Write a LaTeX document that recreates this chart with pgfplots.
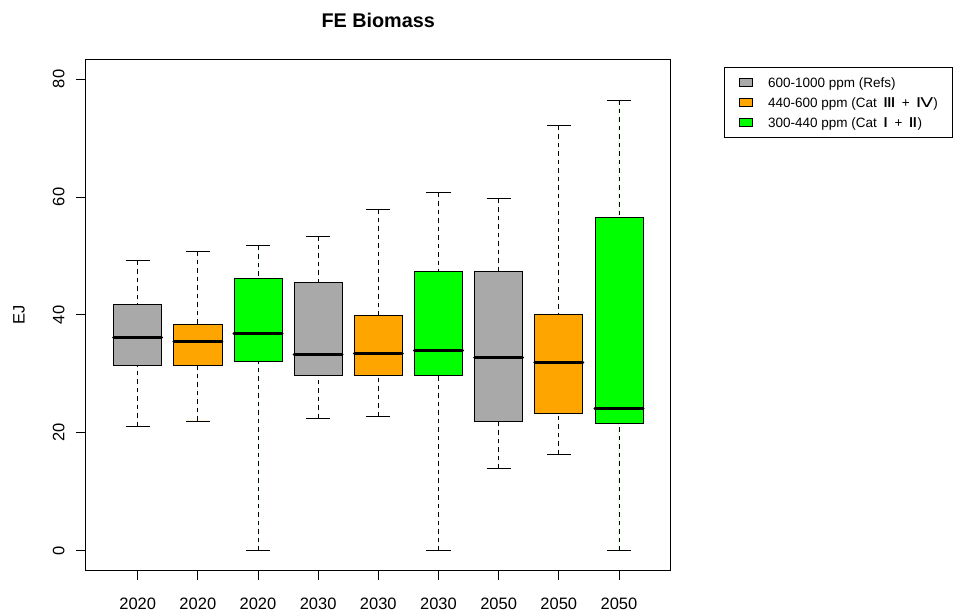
\documentclass[border=0pt]{standalone}
\usepackage{pgfplots}
\pgfplotsset{compat=1.18}
\usepgfplotslibrary{statistics}
\usepackage{fontspec}
\setmainfont{Liberation Sans}
\newfontfamily\dejavu{DejaVu Sans}
\definecolor{rgray}{HTML}{A9A9A9}
\definecolor{rorange}{HTML}{FFA500}
\definecolor{rgreen}{HTML}{00FF00}
\newcommand{\rn}[1]{\scalebox{1.4}[1]{\dejavu #1}}
\begin{document}
\fontsize{16.5bp}{19.8bp}\selectfont
\begin{tikzpicture}
\path[use as bounding box] (-85.7bp,-40.7bp) rectangle (868.3bp,570.3bp);
\begin{axis}[
  at={(0,0)}, anchor=south west,
  scale only axis, width=585bp, height=511.3bp,
  xmin=0.136, xmax=9.86, ymin=-3.32, ymax=83.39,
  axis line style={line width=0.8bp},
  tick style={line width=0.8bp, black},
  tick align=outside, tick pos=left, major tick length=10bp,
  xtick={1,2,3,4,5,6,7,8,9},
  xticklabels={2020,2020,2020,2030,2030,2030,2050,2050,2050},
  ytick={0,20,40,60,80},
  every tick label/.append style={font=\fontsize{16.5bp}{19.8bp}\selectfont},
  yticklabel style={rotate=90, anchor=south, inner sep=0pt},
  xticklabel style={anchor=north, inner sep=0pt},
  yticklabel shift=11bp,
  xticklabel shift=17bp,
  /pgf/number format/assume math mode=true,
  title={FE Biomass},
  title style={font=\fontsize{19.8bp}{24bp}\selectfont\bfseries, at={(axis description cs:0.5,1)}, anchor=base, yshift=26bp},
  ylabel={EJ},
  ylabel style={font=\fontsize{16.5bp}{19.8bp}\selectfont, at={(axis description cs:-0.114,0.5)}, anchor=center},
  legend cell align=left,
  legend image code/.code={\draw[#1, line width=0.8bp] (0bp,-4bp) rectangle (13bp,4bp);},
  legend style={at={(axis description cs:1.091,0.984)}, anchor=north west, draw=black, line width=0.8bp,
    font=\fontsize{13.5bp}{16bp}\selectfont, inner xsep=15bp, inner ysep=10bp, row sep=10.3bp, column sep=15bp,
    nodes={inner sep=0pt, text height=9.7bp, text depth=0pt}},
  boxplot/draw direction=y,
  boxplot/every median/.style={line width=3bp, line cap=round},
  boxplot/draw/lower whisker/.code={
    \draw[dash pattern=on 4.5bp off 4bp]
      (boxplot box cs:\pgfplotsboxplotvalue{lower whisker},0.5) --
      (boxplot box cs:\pgfplotsboxplotvalue{lower quartile},0.5);
    \draw (boxplot whisker cs:\pgfplotsboxplotvalue{lower whisker},0) --
      (boxplot whisker cs:\pgfplotsboxplotvalue{lower whisker},1);
  },
  boxplot/draw/upper whisker/.code={
    \draw[dash pattern=on 4.5bp off 4bp]
      (boxplot box cs:\pgfplotsboxplotvalue{upper whisker},0.5) --
      (boxplot box cs:\pgfplotsboxplotvalue{upper quartile},0.5);
    \draw (boxplot whisker cs:\pgfplotsboxplotvalue{upper whisker},0) --
      (boxplot whisker cs:\pgfplotsboxplotvalue{upper whisker},1);
  },
]
\addlegendimage{fill=rgray, draw=black}
\addlegendentry{600-1000 ppm (Refs)}
\addlegendimage{fill=rorange, draw=black}
\addlegendentry{440-600 ppm (Cat\hspace{6bp}\rn{Ⅲ}\hspace{6bp}+\hspace{6bp}\rn{Ⅳ})}
\addlegendimage{fill=rgreen, draw=black}
\addlegendentry{300-440 ppm (Cat\hspace{6bp}\rn{Ⅰ}\hspace{6bp}+\hspace{6bp}\rn{Ⅱ})}

\addplot[draw=black, fill=rgray, line width=0.8bp, boxplot prepared={draw position=1, lower whisker=21.1, lower quartile=31.5, median=36.1, upper quartile=41.8, upper whisker=49.2, box extend=0.8, whisker extend=0.4}] coordinates {};
\addplot[draw=black, fill=rorange, line width=0.8bp, boxplot prepared={draw position=2, lower whisker=22.0, lower quartile=31.4, median=35.4, upper quartile=38.3, upper whisker=50.8, box extend=0.8, whisker extend=0.4}] coordinates {};
\addplot[draw=black, fill=rgreen, line width=0.8bp, boxplot prepared={draw position=3, lower whisker=0, lower quartile=32.1, median=36.8, upper quartile=46.2, upper whisker=51.7, box extend=0.8, whisker extend=0.4}] coordinates {};
\addplot[draw=black, fill=rgray, line width=0.8bp, boxplot prepared={draw position=4, lower whisker=22.5, lower quartile=29.7, median=33.3, upper quartile=45.5, upper whisker=53.3, box extend=0.8, whisker extend=0.4}] coordinates {};
\addplot[draw=black, fill=rorange, line width=0.8bp, boxplot prepared={draw position=5, lower whisker=22.8, lower quartile=29.7, median=33.5, upper quartile=39.9, upper whisker=57.9, box extend=0.8, whisker extend=0.4}] coordinates {};
\addplot[draw=black, fill=rgreen, line width=0.8bp, boxplot prepared={draw position=6, lower whisker=0, lower quartile=29.7, median=34.0, upper quartile=47.4, upper whisker=60.7, box extend=0.8, whisker extend=0.4}] coordinates {};
\addplot[draw=black, fill=rgray, line width=0.8bp, boxplot prepared={draw position=7, lower whisker=13.9, lower quartile=22.0, median=32.7, upper quartile=47.3, upper whisker=59.7, box extend=0.8, whisker extend=0.4}] coordinates {};
\addplot[draw=black, fill=rorange, line width=0.8bp, boxplot prepared={draw position=8, lower whisker=16.4, lower quartile=23.35, median=31.95, upper quartile=40.0, upper whisker=72.1, box extend=0.8, whisker extend=0.4}] coordinates {};
\addplot[draw=black, fill=rgreen, line width=0.8bp, boxplot prepared={draw position=9, lower whisker=0, lower quartile=21.6, median=24.1, upper quartile=56.6, upper whisker=76.4, box extend=0.8, whisker extend=0.4}] coordinates {};
\end{axis}
\end{tikzpicture}
\end{document}
